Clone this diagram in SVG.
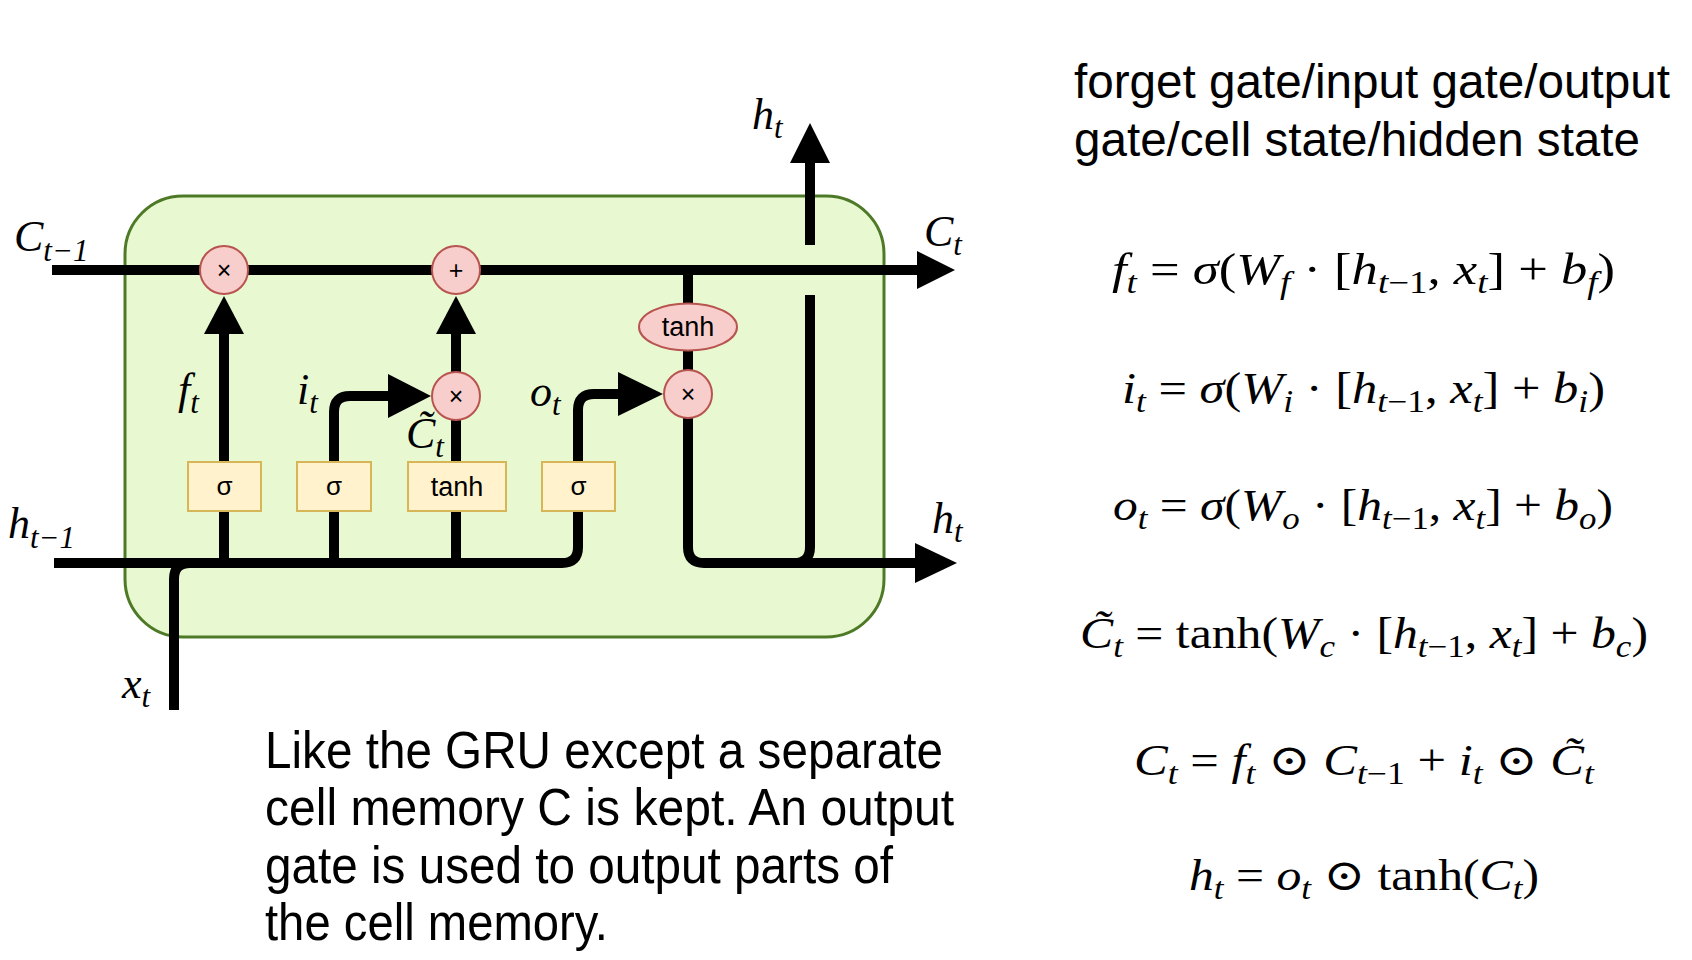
<svg xmlns="http://www.w3.org/2000/svg" width="1692" height="960" viewBox="0 0 1692 960">
<style>
.cell{fill:#E8F9D1;stroke:#4E7A27;stroke-width:3}
.op{fill:#F8CECC;stroke:#B85450;stroke-width:2}
.gate{fill:#FFF2CC;stroke:#D6B656;stroke-width:2}
.ln{fill:none;stroke:#000;stroke-width:10}
.ah{fill:#000}
.sym{font-family:"Liberation Sans",Arial,sans-serif;fill:#000;text-anchor:middle}
.lbl{font-family:"Liberation Serif","DejaVu Serif",serif;font-style:italic;font-size:44px;fill:#000}
.lbl .s{font-size:31px}
.eq{font-family:"Liberation Serif","DejaVu Serif",serif;font-size:44px;fill:#000}
.eq .i{font-style:italic}
.eq .s{font-size:31px}
.txt{font-family:"Liberation Sans",Arial,sans-serif;font-size:52px;fill:#000}
.top{font-size:48px}
</style>
<rect width="1692" height="960" fill="#fff"/>
<g id="cell"><rect class="cell" x="125" y="196" width="759" height="441" rx="58" ry="58"/></g>
<g id="connectors">
<path class="ln" d="M52,270 H918"/>
<polygon class="ah" points="955,270 917,251 917,289"/>
<path class="ln" d="M224,563 V332"/>
<polygon class="ah" points="224,296 204,334 244,334"/>
<path class="ln" d="M456,372 V332"/>
<polygon class="ah" points="456,296 436,334 476,334"/>
<path class="ln" d="M456,563 V420"/>
<path class="ln" d="M334,563 V412 Q334,396 350,396 H390"/>
<polygon class="ah" points="431,396 388,374 388,418"/>
<path class="ln" d="M54,563 H562 Q578,563 578,547 V410 Q578,394 594,394 H620"/>
<polygon class="ah" points="663,394 618,372 618,416"/>
<path class="ln" d="M174,710 V579 Q174,563 190,563"/>
<path class="ln" d="M688,270 V380"/>
<path class="ln" d="M688,410 V547 Q688,563 704,563 H918"/>
<polygon class="ah" points="957,563 915,543 915,583"/>
<path class="ln" d="M810,295 V547 Q810,563 794,563"/>
<path class="ln" d="M810,245 V160"/>
<polygon class="ah" points="810,123 790,163 830,163"/>
</g>
<g id="mul-forget"><circle class="op" cx="224" cy="270" r="24"/><text class="sym" x="224" y="279" font-size="25">×</text></g>
<g id="add-cell"><circle class="op" cx="456" cy="270" r="24"/><text class="sym" x="456" y="279" font-size="25">+</text></g>
<g id="mul-input"><circle class="op" cx="456" cy="396" r="24"/><text class="sym" x="456" y="405" font-size="25">×</text></g>
<g id="tanh-cell"><ellipse class="op" cx="688" cy="327" rx="49" ry="23.5"/><text class="sym" x="688" y="336" font-size="27">tanh</text></g>
<g id="mul-output"><circle class="op" cx="688" cy="394" r="24"/><text class="sym" x="688" y="403" font-size="25">×</text></g>
<g id="gate-f"><rect class="gate" x="188" y="462" width="73" height="49"/><text class="sym" x="224.5" y="495" font-size="26">σ</text></g>
<g id="gate-i"><rect class="gate" x="297" y="462" width="74" height="49"/><text class="sym" x="334" y="495" font-size="26">σ</text></g>
<g id="gate-c"><rect class="gate" x="408" y="462" width="98" height="49"/><text class="sym" x="457" y="496" font-size="27">tanh</text></g>
<g id="gate-o"><rect class="gate" x="542" y="462" width="73" height="49"/><text class="sym" x="578.5" y="495" font-size="26">σ</text></g>
<g id="labels">
<text class="lbl" x="14" y="251">C<tspan class="s" dy="10">t−1</tspan></text>
<text class="lbl" x="8" y="538">h<tspan class="s" dy="10">t−1</tspan></text>
<text class="lbl" x="122" y="698">x<tspan class="s" dy="9">t</tspan></text>
<text class="lbl" x="178" y="404">f<tspan class="s" dy="9">t</tspan></text>
<text class="lbl" x="297" y="404">i<tspan class="s" dy="9">t</tspan></text>
<text class="lbl" x="406" y="448">C̃<tspan class="s" dy="9">t</tspan></text>
<text class="lbl" x="530" y="406">o<tspan class="s" dy="9">t</tspan></text>
<text class="lbl" x="924" y="246">C<tspan class="s" dy="9">t</tspan></text>
<text class="lbl" x="752" y="129">h<tspan class="s" dy="9">t</tspan></text>
<text class="lbl" x="932" y="533">h<tspan class="s" dy="9">t</tspan></text>
</g>
<g id="equations">
<text class="eq" x="1112" y="284" textLength="503" lengthAdjust="spacingAndGlyphs"><tspan class="i">f</tspan><tspan class="i s" dy="9">t</tspan><tspan dy="-9"> = </tspan><tspan class="i">σ</tspan>(<tspan class="i">W</tspan><tspan class="i s" dy="9">f</tspan><tspan dy="-9"> · [</tspan><tspan class="i">h</tspan><tspan class="s" dy="9"><tspan class="i">t</tspan>−1</tspan><tspan dy="-9">, </tspan><tspan class="i">x</tspan><tspan class="i s" dy="9">t</tspan><tspan dy="-9">] + </tspan><tspan class="i">b</tspan><tspan class="i s" dy="9">f</tspan><tspan dy="-9">)</tspan></text>
<text class="eq" x="1122" y="403" textLength="483" lengthAdjust="spacingAndGlyphs"><tspan class="i">i</tspan><tspan class="i s" dy="9">t</tspan><tspan dy="-9"> = </tspan><tspan class="i">σ</tspan>(<tspan class="i">W</tspan><tspan class="i s" dy="9">i</tspan><tspan dy="-9"> · [</tspan><tspan class="i">h</tspan><tspan class="s" dy="9"><tspan class="i">t</tspan>−1</tspan><tspan dy="-9">, </tspan><tspan class="i">x</tspan><tspan class="i s" dy="9">t</tspan><tspan dy="-9">] + </tspan><tspan class="i">b</tspan><tspan class="i s" dy="9">i</tspan><tspan dy="-9">)</tspan></text>
<text class="eq" x="1113" y="520" textLength="500" lengthAdjust="spacingAndGlyphs"><tspan class="i">o</tspan><tspan class="i s" dy="9">t</tspan><tspan dy="-9"> = </tspan><tspan class="i">σ</tspan>(<tspan class="i">W</tspan><tspan class="i s" dy="9">o</tspan><tspan dy="-9"> · [</tspan><tspan class="i">h</tspan><tspan class="s" dy="9"><tspan class="i">t</tspan>−1</tspan><tspan dy="-9">, </tspan><tspan class="i">x</tspan><tspan class="i s" dy="9">t</tspan><tspan dy="-9">] + </tspan><tspan class="i">b</tspan><tspan class="i s" dy="9">o</tspan><tspan dy="-9">)</tspan></text>
<text class="eq" x="1080" y="648" textLength="568" lengthAdjust="spacingAndGlyphs"><tspan class="i">C̃</tspan><tspan class="i s" dy="9">t</tspan><tspan dy="-9"> = tanh(</tspan><tspan class="i">W</tspan><tspan class="i s" dy="9">c</tspan><tspan dy="-9"> · [</tspan><tspan class="i">h</tspan><tspan class="s" dy="9"><tspan class="i">t</tspan>−1</tspan><tspan dy="-9">, </tspan><tspan class="i">x</tspan><tspan class="i s" dy="9">t</tspan><tspan dy="-9">] + </tspan><tspan class="i">b</tspan><tspan class="i s" dy="9">c</tspan><tspan dy="-9">)</tspan></text>
<text class="eq" x="1134" y="775" textLength="460" lengthAdjust="spacingAndGlyphs"><tspan class="i">C</tspan><tspan class="i s" dy="9">t</tspan><tspan dy="-9"> = </tspan><tspan class="i">f</tspan><tspan class="i s" dy="9">t</tspan><tspan dy="-9"> ⊙ </tspan><tspan class="i">C</tspan><tspan class="s" dy="9"><tspan class="i">t</tspan>−1</tspan><tspan dy="-9"> + </tspan><tspan class="i">i</tspan><tspan class="i s" dy="9">t</tspan><tspan dy="-9"> ⊙ </tspan><tspan class="i">C̃</tspan><tspan class="i s" dy="9">t</tspan></text>
<text class="eq" x="1189" y="890" textLength="350" lengthAdjust="spacingAndGlyphs"><tspan class="i">h</tspan><tspan class="i s" dy="9">t</tspan><tspan dy="-9"> = </tspan><tspan class="i">o</tspan><tspan class="i s" dy="9">t</tspan><tspan dy="-9"> ⊙ tanh(</tspan><tspan class="i">C</tspan><tspan class="i s" dy="9">t</tspan><tspan dy="-9">)</tspan></text>
</g>
<g id="notes">
<text class="txt top" x="1074" y="98" textLength="596" lengthAdjust="spacingAndGlyphs">forget gate/input gate/output</text>
<text class="txt top" x="1074" y="156" textLength="566" lengthAdjust="spacingAndGlyphs">gate/cell state/hidden state</text>
<text class="txt" x="265" y="768" textLength="678" lengthAdjust="spacingAndGlyphs">Like the GRU except a separate</text>
<text class="txt" x="265" y="825" textLength="689" lengthAdjust="spacingAndGlyphs">cell memory C is kept. An output</text>
<text class="txt" x="265" y="883" textLength="628" lengthAdjust="spacingAndGlyphs">gate is used to output parts of</text>
<text class="txt" x="265" y="940" textLength="343" lengthAdjust="spacingAndGlyphs">the cell memory.</text>
</g>
</svg>
